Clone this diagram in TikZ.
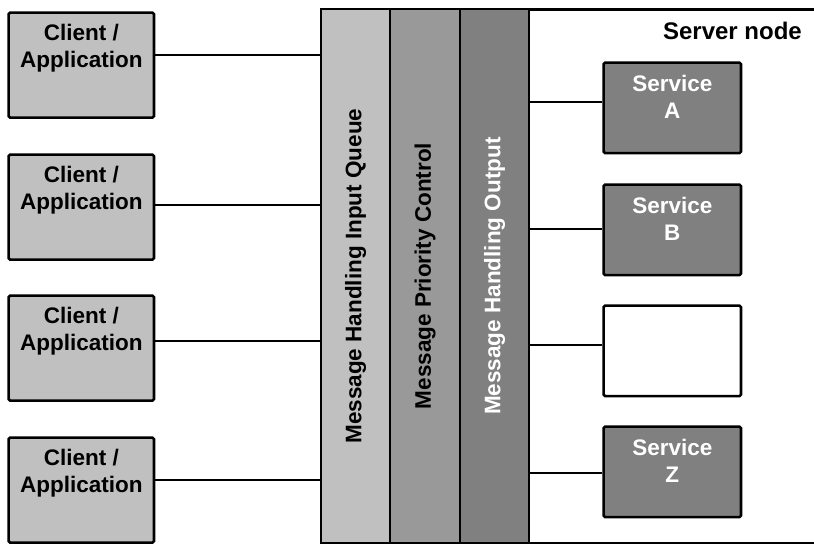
\documentclass[tikz,border=0pt]{standalone}
\usepackage{fontspec}
\setmainfont{Liberation Sans}
\usetikzlibrary{calc}
\definecolor{clientgray}{gray}{0.753}
\definecolor{prioritygray}{gray}{0.60}
\definecolor{outgray}{gray}{0.502}
\newcommand{\twolines}[2]{\begin{tabular}[t]{@{}c@{}}#1\\#2\end{tabular}}
\begin{document}
\begin{tikzpicture}[x=1pt,y=-1pt,
  txt/.style={font=\bfseries\fontsize{22.5}{27}\selectfont, inner sep=0pt},
  box/.style={draw=black, line width=2.6pt, rounded corners=1.5pt, inner sep=0pt, anchor=north west},
  clientbox/.style={box, fill=clientgray, minimum width=145.4pt, minimum height=105pt},
  servicebox/.style={box, fill=outgray, minimum width=137.4pt, minimum height=90.5pt},
  emptybox/.style={box, fill=white, minimum width=137.4pt, minimum height=90.5pt},
  column/.style={draw=black, line width=2pt, inner sep=0pt, anchor=north west, minimum height=533.5pt},
  conn/.style={draw=black, line width=1.3pt},
  vlabel/.style={txt, rotate=90},
]
\useasboundingbox (0,0) rectangle (814,544);
\clip (0,0) rectangle (814,544);

% server node frame, its right side runs off the page
\node[draw=black, line width=2.5pt, fill=white, inner sep=0pt, anchor=north west,
      minimum width=520pt, minimum height=533.5pt] (server) at (320.3,8.3) {};
\node[txt, anchor=base east, font=\bfseries\fontsize{24}{28}\selectfont] (servertitle) at (802,39.5) {Server node};

% message handling columns
\node[column, fill=clientgray, minimum width=68.7pt] (inq) at (320.3,8.3) {};
\node[column, fill=prioritygray, minimum width=70pt] (prio) at (389,8.3) {};
\node[column, fill=outgray, minimum width=69pt] (outp) at (459,8.3) {};
\node[vlabel] (inqt) at (inq.center) {Message Handling Input Queue};
\node[vlabel] (priot) at (prio.center) {Message Priority Control};
\node[vlabel, text=white] (outpt) at (outp.center) {Message Handling Output};

% clients
\foreach \i/\top in {1/11.3, 2/153.3, 3/294.3, 4/436.3} {
  \node[clientbox] (c\i) at (7.3,\top) {};
  \node[txt, anchor=base] (c\i t) at ($(c\i.north)+(0,29)$) {\twolines{Client /}{Application}};
}

% services
\node[servicebox] (sa) at (602.3,61.3) {};
\node[servicebox] (sb) at (602.3,183.3) {};
\node[emptybox] (sx) at (602.3,304.3) {};
\node[servicebox] (sz) at (602.3,425.3) {};
\node[txt, anchor=base, text=white] (sat) at ($(sa.north)+(0,30)$) {\twolines{Service}{A}};
\node[txt, anchor=base, text=white] (sbt) at ($(sb.north)+(0,30)$) {\twolines{Service}{B}};
\node[txt, anchor=base, text=white] (szt) at ($(sz.north)+(0,30)$) {\twolines{Service}{Z}};

% connector heights
\coordinate (y1) at (0,55);
\coordinate (y2) at (0,205);
\coordinate (y3) at (0,341);
\coordinate (y4) at (0,480);
\coordinate (ya) at (0,102);
\coordinate (yb) at (0,229);
\coordinate (yx) at (0,345);
\coordinate (yz) at (0,473);

\foreach \i in {1,2,3,4} {
  \draw[conn] (c\i.east |- y\i) -- (inq.west |- y\i);
}
\draw[conn] (outp.east |- ya) -- (sa.west |- ya);
\draw[conn] (outp.east |- yb) -- (sb.west |- yb);
\draw[conn] (outp.east |- yx) -- (sx.west |- yx);
\draw[conn] (outp.east |- yz) -- (sz.west |- yz);
\end{tikzpicture}
\end{document}
